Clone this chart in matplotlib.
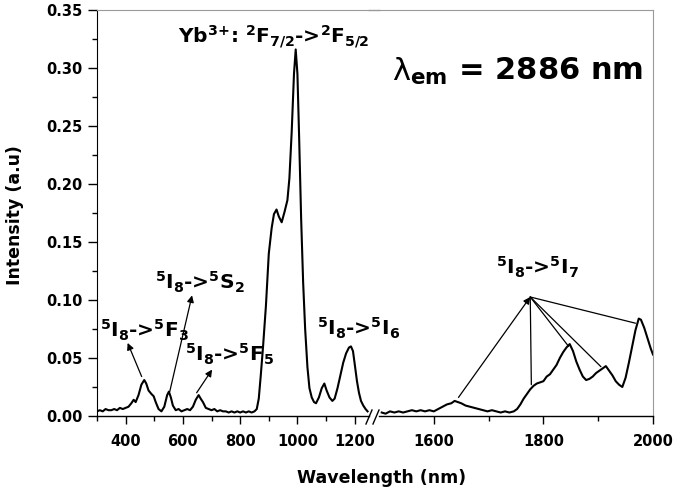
"""
Excitation spectrum (lambda_em = 2886 nm) with a broken wavelength axis.
"""

import matplotlib.pyplot as plt
from matplotlib.lines import Line2D
from matplotlib.ticker import FixedLocator, FormatStrFormatter, MultipleLocator

plt.rcParams["font.family"] = "DejaVu Sans"
plt.rcParams["font.weight"] = "bold"
plt.rcParams["mathtext.fontset"] = "dejavusans"

# visible / NIR part (left of the break)
wl_vis = [300, 310, 320, 330, 340, 350, 360, 370, 380, 390, 400, 410, 420, 428,
          435, 445, 455, 465, 472, 480, 490, 498, 505, 515, 525, 535, 545, 551,
          558, 565, 575, 585, 595, 605, 615, 625, 635, 645, 655, 662, 670, 680,
          690, 700, 710, 720, 730, 740, 750, 760, 770, 780, 790, 800, 810, 820,
          830, 840, 850, 858, 865, 872, 880, 890, 900, 910, 918, 927, 935, 945,
          955, 965, 972, 980, 988, 994, 1000, 1006, 1013, 1020, 1027, 1035, 1042,
          1050, 1058, 1065, 1075, 1085, 1094, 1102, 1112, 1122, 1130, 1140, 1150,
          1160, 1170, 1180, 1187, 1194, 1200, 1208, 1215, 1222, 1230, 1238, 1245]
int_vis = [0.004, 0.005, 0.004, 0.006, 0.005, 0.005, 0.006, 0.005, 0.007, 0.006,
           0.007, 0.008, 0.011, 0.014, 0.012, 0.018, 0.027, 0.031, 0.028, 0.022,
           0.019, 0.017, 0.012, 0.006, 0.004, 0.008, 0.018, 0.021, 0.016, 0.009,
           0.005, 0.006, 0.004, 0.005, 0.006, 0.005, 0.008, 0.014, 0.018, 0.015,
           0.012, 0.007, 0.006, 0.005, 0.006, 0.004, 0.005, 0.004, 0.004, 0.003,
           0.004, 0.003, 0.004, 0.003, 0.004, 0.003, 0.004, 0.003, 0.004, 0.006,
           0.015, 0.035, 0.060, 0.095, 0.140, 0.162, 0.174, 0.178, 0.172, 0.167,
           0.176, 0.186, 0.205, 0.245, 0.295, 0.316, 0.295, 0.240, 0.170, 0.115,
           0.075, 0.042, 0.024, 0.016, 0.012, 0.011, 0.016, 0.024, 0.028, 0.022,
           0.016, 0.013, 0.015, 0.024, 0.035, 0.046, 0.054, 0.059, 0.060, 0.056,
           0.045, 0.030, 0.020, 0.013, 0.009, 0.006, 0.004]

# mid-IR part (right of the break)
wl_ir = [1505, 1512, 1520, 1528, 1536, 1544, 1552, 1560, 1568, 1576, 1584, 1592,
         1600, 1608, 1616, 1624, 1632, 1638, 1644, 1650, 1658, 1666, 1674, 1682,
         1690, 1698, 1706, 1714, 1722, 1730, 1738, 1746, 1752, 1758, 1764, 1770,
         1776, 1782, 1788, 1794, 1800, 1806, 1812, 1818, 1824, 1830, 1836, 1842,
         1848, 1854, 1860, 1866, 1872, 1878, 1884, 1890, 1896, 1902, 1908, 1914,
         1920, 1926, 1932, 1938, 1944, 1950, 1956, 1962, 1968, 1974, 1978, 1984,
         1990, 1996, 2000]
int_ir = [0.003, 0.002, 0.004, 0.003, 0.004, 0.003, 0.004, 0.005, 0.004, 0.005,
          0.004, 0.005, 0.004, 0.006, 0.008, 0.010, 0.011, 0.013, 0.012, 0.011,
          0.009, 0.008, 0.007, 0.006, 0.005, 0.004, 0.005, 0.004, 0.003, 0.004,
          0.003, 0.004, 0.006, 0.010, 0.015, 0.019, 0.023, 0.026, 0.028, 0.029,
          0.030, 0.034, 0.036, 0.040, 0.044, 0.050, 0.055, 0.059, 0.062, 0.056,
          0.047, 0.040, 0.034, 0.031, 0.032, 0.034, 0.037, 0.039, 0.041, 0.043,
          0.039, 0.035, 0.030, 0.027, 0.025, 0.033, 0.046, 0.060, 0.074, 0.084,
          0.083, 0.076, 0.067, 0.058, 0.053]

vis_ticks = [400, 600, 800, 1000, 1200]
vis_minor = [300, 500, 700, 900, 1100]
ir_ticks = [1600, 1800, 2000]
ir_minor = [1700, 1900]

W, H = 675, 492
GREY = "#9a9a9a"


def px_rect(x0, x1, y0, y1):
    return [x0 / W, 1 - y1 / H, (x1 - x0) / W, (y1 - y0) / H]


def fig_line(fig, xs, ys, **kw):
    fig.add_artist(Line2D([x / W for x in xs], [1 - y / H for y in ys],
                          transform=fig.transFigure, **kw))


fig = plt.figure(figsize=(6.75, 4.92), dpi=100)
ax1 = fig.add_axes(px_rect(97, 369, 10, 416))
ax2 = fig.add_axes(px_rect(379, 653, 10, 416), sharey=ax1)
ax2.patch.set_visible(False)

ax1.plot(wl_vis, int_vis, color="black", lw=1.5)
ax2.plot(wl_ir, int_ir, color="black", lw=1.5)

ax1.set_xlim(300, 1250)
ax2.set_xlim(1500, 2000)
ax1.set_ylim(0, 0.35)

for ax in (ax1, ax2):
    ax.spines["top"].set_color(GREY)
    ax.spines["bottom"].set_linewidth(1.0)
    ax.tick_params(axis="both", which="major", direction="out", length=6,
                   width=1, labelsize=10.5, pad=7)
    ax.tick_params(axis="both", which="minor", direction="out", length=3.5,
                   width=1)
    for lab in ax.get_xticklabels() + ax.get_yticklabels():
        lab.set_fontweight("bold")

ax1.spines["right"].set_visible(False)
ax2.spines["left"].set_visible(False)
ax2.spines["right"].set_color(GREY)

ax1.xaxis.set_major_locator(FixedLocator(vis_ticks))
ax1.xaxis.set_minor_locator(FixedLocator(vis_minor))
ax2.xaxis.set_major_locator(FixedLocator(ir_ticks))
ax2.xaxis.set_minor_locator(FixedLocator(ir_minor))
ax1.yaxis.set_major_locator(MultipleLocator(0.05))
ax1.yaxis.set_minor_locator(MultipleLocator(0.025))
ax1.yaxis.set_major_formatter(FormatStrFormatter("%.2f"))
ax1.tick_params(axis="y", which="major", length=6.5, pad=4)
ax2.tick_params(axis="y", which="both", left=False, labelleft=False)

# top frame across the gap and the break marks
fig_line(fig, [369, 379], [10, 10], color=GREY, lw=1.0)
fig_line(fig, [366, 372], [424, 410], color="black", lw=1.0)
fig_line(fig, [373, 379], [424, 410], color="black", lw=1.0)

# annotations
arrow = dict(arrowstyle="-|>", color="black", lw=0.9, mutation_scale=10,
             shrinkA=0, shrinkB=0)
plain = dict(arrowstyle="-", color="black", lw=0.9, shrinkA=0, shrinkB=0)

ax1.annotate("", xy=(407, 0.063), xytext=(456, 0.034), arrowprops=arrow)
ax1.annotate("", xy=(632, 0.104), xytext=(554, 0.021), arrowprops=arrow)
ax1.annotate("", xy=(702, 0.040), xytext=(648, 0.020), arrowprops=arrow)

hub = (1776, 0.1026)
ax2.annotate("", xy=hub, xytext=(1645, 0.016), arrowprops=arrow)
for pt in [(1778, 0.027), (1846, 0.060), (1905, 0.0425), (1968, 0.080)]:
    ax2.annotate("", xy=hub, xytext=pt, arrowprops=plain)

lab_kw = dict(fontsize=14.5, fontweight="bold", ha="left", va="baseline")
ax1.text(310, 0.068, r"$^{\mathbf{5}}$I$_{\mathbf{8}}$->$^{\mathbf{5}}$F$_{3}$",
         **lab_kw)
ax1.text(502, 0.109, r"$^{\mathbf{5}}$I$_{\mathbf{8}}$->$^{\mathbf{5}}$S$_{2}$",
         **lab_kw)
ax1.text(607, 0.047, r"$^{\mathbf{5}}$I$_{\mathbf{8}}$->$^{\mathbf{5}}$F$_{5}$",
         **lab_kw)
ax1.text(1070, 0.069, r"$^{\mathbf{5}}$I$_{\mathbf{8}}$->$^{\mathbf{5}}$I$_{6}$",
         **lab_kw)
ax2.text(1713, 0.1216, r"$^{\mathbf{5}}$I$_{\mathbf{8}}$->$^{\mathbf{5}}$I$_{7}$",
         **lab_kw)
ax1.text(582, 0.3213,
         r"Yb$^{\mathbf{3}}$$^{\mathbf{+}}$: $^{\mathbf{2}}$F$_{\mathbf{7/2}}$->"
         r"$^{\mathbf{2}}$F$_{\mathbf{5/2}}$",
         fontsize=14.5, fontweight="bold", ha="left", va="baseline")

# lambda in normal weight, the rest bold
ax2.text(1524, 0.2897, "λ", fontsize=22, fontweight="normal",
         ha="left", va="baseline")
ax2.text(1557, 0.2897, r"$_{\mathbf{em}}$ = 2886 nm",
         fontsize=22, fontweight="bold", ha="left", va="baseline")

fig.text(382 / W, 1 - 478 / H, "Wavelength (nm)", fontsize=12.5,
         fontweight="bold", ha="center", va="center")
fig.text(15 / W, 1 - 215 / H, "Intensity (a.u)", fontsize=12.5,
         fontweight="bold", ha="center", va="center", rotation=90)

fig.savefig("out.png", dpi=100)
